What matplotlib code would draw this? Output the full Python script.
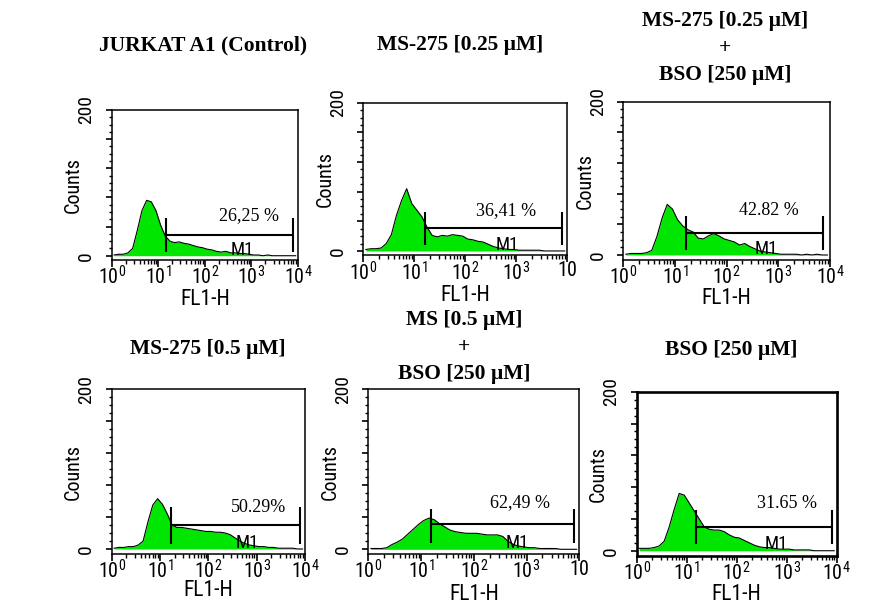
import matplotlib
matplotlib.use('Agg')
import matplotlib.pyplot as plt
import numpy as np
from matplotlib.ticker import LogLocator, NullFormatter, MultipleLocator

SANS = ['Roboto Condensed', 'Liberation Sans', 'DejaVu Sans']
SERIF = ['Liberation Serif', 'DejaVu Serif']
plt.rcParams['font.family'] = SANS
plt.rcParams['mathtext.default'] = 'regular'

# FL1-H histogram bin centres, in decades (10^0 .. 10^4), 0.1 decade per bin
bin_decade = np.arange(40) * 0.1 + 0.05

# counts per bin
control = [1, 2, 2, 4, 10, 35, 62, 76, 74, 62, 42, 27, 20, 18, 19, 17, 16, 14, 12, 11,
           9, 8, 6, 5, 6, 4, 4, 3, 3, 2, 1, 1, 0, 1, 0, 0, 0, 0, 0, 0]
ms_025 = [2, 3, 3, 4, 10, 22, 48, 68, 84, 64, 55, 46, 32, 21, 19, 21, 20, 22, 21, 20,
          16, 15, 13, 12, 9, 6, 4, 3, 2, 2, 1, 1, 1, 1, 1, 0, 0, 0, 0, 0]
ms_025_bso = [1, 2, 2, 2, 3, 6, 24, 48, 66, 60, 46, 38, 33, 30, 22, 21, 25, 28, 25, 21,
              19, 17, 13, 15, 11, 8, 5, 4, 3, 2, 1, 1, 1, 1, 0, 1, 0, 1, 0, 0]
ms_05 = [1, 2, 2, 3, 3, 5, 10, 34, 55, 63, 56, 44, 30, 27, 27, 26, 25, 24, 23, 22,
         22, 21, 21, 20, 18, 14, 10, 7, 5, 4, 3, 3, 2, 2, 1, 1, 1, 1, 0, 0]
ms_05_bso = [1, 1, 1, 2, 6, 9, 13, 19, 25, 31, 36, 39, 37, 32, 28, 24, 22, 21, 20, 20,
             20, 19, 18, 18, 18, 16, 10, 6, 4, 3, 2, 2, 1, 1, 1, 1, 0, 0, 0, 0]
bso = [3, 3, 3, 4, 6, 12, 30, 52, 72, 70, 60, 50, 40, 30, 27, 26, 26, 24, 20, 17,
       16, 13, 10, 7, 5, 4, 4, 3, 2, 2, 2, 1, 1, 1, 1, 0, 0, 0, 0, 0]

series = [control, ms_025, ms_025_bso, ms_05, ms_05_bso, bso]
titles = ['JURKAT A1 (Control)',
          'MS-275 [0.25 µM]',
          'MS-275 [0.25 µM]\n+\nBSO [250 µM]',
          'MS-275 [0.5 µM]',
          'MS [0.5 µM]\n+\nBSO [250 µM]',
          'BSO [250 µM]']
percents = ['26,25 %', '36,41 %', '42.82 %', '50.29%', '62,49 %', '31.65 %']

# M1 gate (FL1-H values) and its level in counts
gate_start = [15, 16.5, 16, 16.5, 15.5, 15.5]
gate_end = [7900, 7900, 7250, 7900, 8100, 7900]
gate_level = [28, 30.5, 29, 30, 31.5, 30]

# layout, in pixels: (left, top, right, bottom) of each plot box
W, H = 892, 608
boxes = [(111.7, 110, 298, 260.1), (363.3, 102.7, 567.3, 255.4), (623.3, 101.7, 830, 259.6),
         (111.7, 389.3, 305, 553.8), (368.3, 389.3, 579.3, 554.1), (636.7, 391.7, 836.7, 555.5)]
title_pos = [(203, 45), (460, 45), (725, 48), (208, 349), (464, 347), (731, 350)]
pct_pos = [(2.95, 55), (2.79, 55), (2.82, 58), (3.04, 52), (2.88, 59), (3.0, 60)]
m1_pos = [2.81, 2.82, 2.76, 2.8, 2.82, 2.79]
tick_span = [(5, 52), (8, 52), (7, 51), (6, 52), (8, 51), (9, 51)]
xlabel_off = [-39, -39.6, -39.4, -37, -40, -39.5]
last_label_cut = [False, True, False, False, True, False]
frame_lw = [1.1, 1.1, 1.1, 1.1, 1.1, 1.9]

GREEN = '#00E600'
PX = 72 / 100  # points per pixel

fig = plt.figure(figsize=(W / 100, H / 100), dpi=100)

for i, counts in enumerate(series):
    l, t, r, b = boxes[i]
    ax = fig.add_axes([l / W, 1 - b / H, (r - l) / W, (b - t) / H])
    x = 10 ** bin_decade
    ax.fill_between(x, counts, 0, color=GREEN, lw=0)
    ax.plot(x, counts, color='black', lw=0.8)

    # M1 marker
    lo, hi = tick_span[i]
    ax.hlines(gate_level[i], gate_start[i], gate_end[i], color='black', lw=1.5)
    ax.vlines([gate_start[i], gate_end[i]], lo, hi, color='black', lw=1.5)
    ax.text(10 ** pct_pos[i][0], pct_pos[i][1], percents[i], family=SERIF,
            fontsize=13, ha='center', va='center')
    ax.text(10 ** m1_pos[i], 8, 'M1', fontsize=13.5, ha='center', va='center')

    ax.set_xscale('log')
    ax.set_xlim(1, 1e4)
    ax.set_ylim(-6, 200)

    xlabels = ['$10^{%d}$' % k for k in range(5)]
    if last_label_cut[i]:
        xlabels[-1] = '10'
    ax.set_xticks([1, 10, 100, 1000, 10000], xlabels)
    ax.xaxis.set_minor_locator(LogLocator(base=10, subs=range(2, 10), numticks=20))
    ax.xaxis.set_minor_formatter(NullFormatter())
    ax.set_yticks([0, 40, 80, 120, 160, 200], ['0', '', '', '', '', '200'])
    ax.yaxis.set_minor_locator(MultipleLocator(10))
    ax.tick_params(axis='x', which='major', direction='out', length=5, width=1.2,
                   labelsize=14.5, pad=-1)
    ax.tick_params(axis='x', which='minor', direction='out', length=3, width=1)
    ax.tick_params(axis='y', which='major', direction='out', length=4, width=1.2,
                   labelsize=14, pad=8, labelrotation=90)
    ax.tick_params(axis='y', which='minor', direction='out', length=2.5, width=1)
    for lab in ax.get_yticklabels():
        lab.set_va('center')

    for sp in ax.spines.values():
        sp.set_linewidth(frame_lw[i])

    ax.annotate('Counts', xy=(0, 0.5), xycoords='axes fraction',
                xytext=(-38 * PX, 0), textcoords='offset points',
                rotation=90, ha='center', va='center', fontsize=14.5)
    ax.annotate('FL1-H', xy=(0.5, 0), xycoords='axes fraction',
                xytext=(0, xlabel_off[i] * PX), textcoords='offset points',
                ha='center', va='center', fontsize=15.5)

    tx, ty = title_pos[i]
    fig.text(tx / W, 1 - ty / H, titles[i], family=SERIF, fontweight='bold',
             fontsize=15.5, ha='center', va='center', linespacing=1.45)

fig.savefig('out.png', dpi=100)
